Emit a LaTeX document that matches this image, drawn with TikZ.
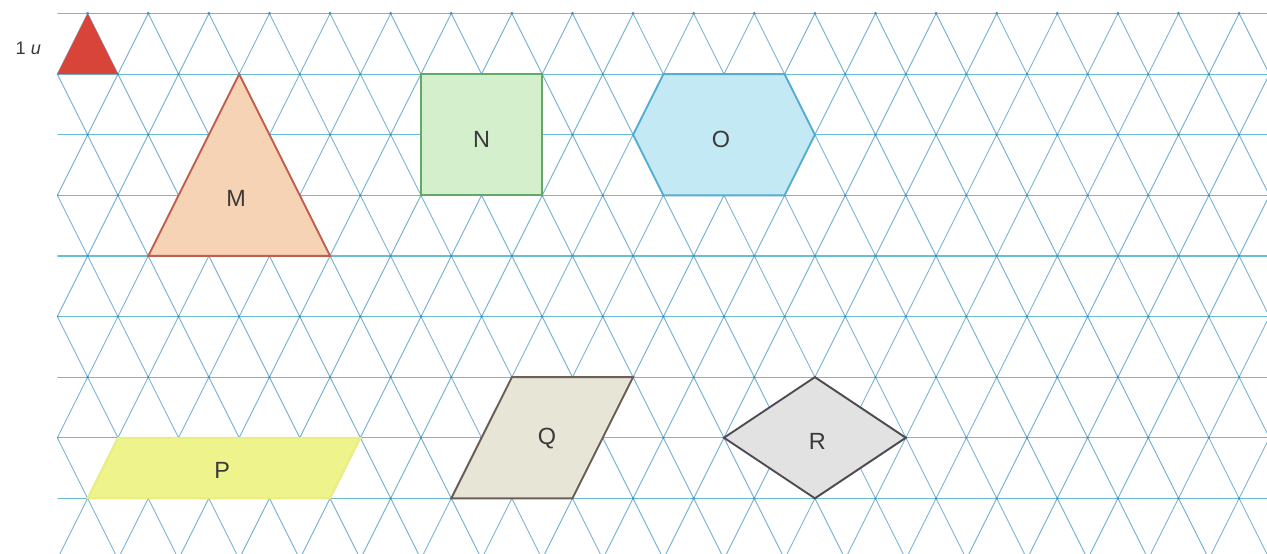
\documentclass[tikz,border=0pt]{standalone}
\usepackage{fontspec}
\setmainfont{Liberation Sans}
\usepackage{tikz}
\usetikzlibrary{calc}

\definecolor{diagblue}{RGB}{124,180,212}
\definecolor{rowcyan}{RGB}{104,190,212}
\definecolor{dotblue}{RGB}{70,140,185}
\definecolor{labelgray}{RGB}{58,58,58}

\begin{document}
\begin{tikzpicture}[x=1cm,y=1cm,
	diag line/.style={draw=diagblue,line width=0.45pt},
	row line/.style={draw=rowcyan,line width=0.55pt},
	piece/.style={line width=0.9pt,line join=miter},
	piece label/.style={font=\fontsize{11}{13}\selectfont,text=labelgray,inner sep=0pt}]

	\useasboundingbox (-0.946,-0.91) rectangle (19.96,8.223);

	% triangular paper
	\begin{scope}
		\clip (0,-0.91) rectangle (19.96,8.01);
		\foreach \c in {-5.5,-4.5,...,24.5} {
			\draw[diag line] (\c-0.5,-1) -- (\c+4.25,8.5);
			\draw[diag line] (\c+0.5,-1) -- (\c-4.25,8.5);
		}
		\foreach \r in {0,...,8}
			\draw[row line] (0,\r) -- (20,\r);
		\foreach \r in {0,...,8} {
			\pgfmathsetmacro\xoff{mod(\r+1,2)*0.5}
			\foreach \k in {0,...,20}
				\fill[dotblue] (\k+\xoff,\r) circle (0.022);
		}
	\end{scope}

	% unit
	\fill[fill={rgb,255:red,216;green,68;blue,58}] (0,7) -- (1,7) -- (0.5,8) -- cycle;
	\node[font=\fontsize{8.5}{10}\selectfont,text=labelgray,inner sep=0pt] (unit) at (-0.48,7.42) {1 \textit{u}};

	% pieces
	\filldraw[piece,fill={rgb,255:red,247;green,211;blue,181},draw={rgb,255:red,192;green,96;blue,76}]
		(1.5,4) -- (4.5,4) -- (3,7) -- cycle;
	\filldraw[piece,fill={rgb,255:red,212;green,239;blue,204},draw={rgb,255:red,98;green,168;blue,102}]
		(6,5) rectangle (8,7);
	\filldraw[piece,fill={rgb,255:red,194;green,233;blue,244},draw={rgb,255:red,86;green,172;blue,210}]
		(9.5,6) -- (10,7) -- (12,7) -- (12.5,6) -- (12,5) -- (10,5) -- cycle;
	\filldraw[piece,fill={rgb,255:red,238;green,243;blue,140},draw={rgb,255:red,232;green,238;blue,128}]
		(0.5,0) -- (4.5,0) -- (5,1) -- (1,1) -- cycle;
	\filldraw[piece,fill={rgb,255:red,231;green,229;blue,213},draw={rgb,255:red,109;green,95;blue,88}]
		(6.5,0) -- (8.5,0) -- (9.5,2) -- (7.5,2) -- cycle;
	\filldraw[piece,fill={rgb,255:red,226;green,226;blue,226},draw={rgb,255:red,77;green,74;blue,82}]
		(11,1) -- (12.5,2) -- (14,1) -- (12.5,0) -- cycle;

	\node[piece label] (M) at (2.95,4.95) {M};
	\node[piece label] (N) at (7,5.93) {N};
	\node[piece label] (O) at (10.95,5.93) {O};
	\node[piece label] (P) at (2.72,0.46) {P};
	\node[piece label] (Q) at (8.08,0.99) {Q};
	\node[piece label] (R) at (12.54,0.94) {R};

\end{tikzpicture}
\end{document}
